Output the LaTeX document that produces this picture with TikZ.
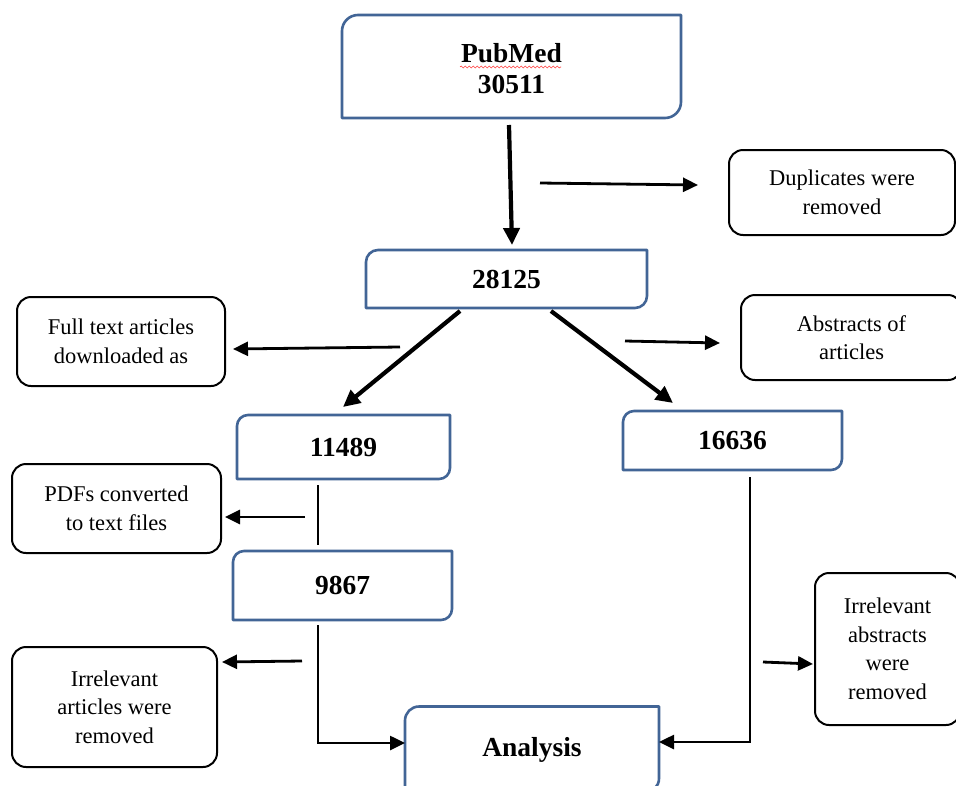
\documentclass[tikz,border=0pt]{standalone}
\usepackage{fontspec}
\setmainfont{Liberation Serif}
\usetikzlibrary{arrows.meta,calc,decorations.pathmorphing}
\definecolor{boxblue}{RGB}{66,101,150}
\tikzset{
  bluebox/.style={draw=none, inner sep=0pt, outer sep=0pt, align=center,
    font=\bfseries\fontsize{27.5}{31}\selectfont},
  bframe/.style={draw=boxblue, line width=2.6pt, line join=round},
  blackbox/.style={draw=black, line width=2pt, rounded corners=14pt, inner sep=0pt,
    outer sep=0pt, align=center, font=\fontsize{22.5}{28.5}\selectfont},
  thinarrow/.style={line width=2.8pt, -{Triangle[length=15pt,width=14pt]}},
  thickarrow/.style={line width=4.2pt, -{Triangle[length=17pt,width=16pt]}},
  plainline/.style={line width=2.6pt}
}
\newcommand\blueframe[2]{%
  \draw[bframe] (#1.south west) -- ([yshift=-#2]#1.north west)
    arc[start angle=180,end angle=90,radius=#2] -- (#1.north east)
    -- ([yshift=#2]#1.south east) arc[start angle=0,end angle=-90,radius=#2] -- cycle;}
\begin{document}
\begin{tikzpicture}[x=1pt,y=1pt]
\useasboundingbox (0,0) rectangle (956,-785);
\fill[white] (0,0) rectangle (956,-785);
\clip (0,0) rectangle (956,-785);

% blue boxes
\node[bluebox, minimum width=339pt, minimum height=103pt] (pub) at (511.5,-66.5) {};
\node[bluebox] (pubtext) at (511.5,-69) {PubMed\\30511};
\node[bluebox, minimum width=281pt, minimum height=58pt] (n28) at (506.5,-279) {28125};
\node[bluebox, minimum width=213pt, minimum height=64pt] (n11) at (343.5,-447) {11489};
\node[bluebox, minimum width=219pt, minimum height=69pt] (n98) at (342.5,-585.5) {9867};
\node[bluebox, minimum width=219pt, minimum height=59pt] (n16) at (732.5,-440.5) {16636};
\node[bluebox, minimum width=254pt, minimum height=86pt] (ana) at (532,-749.5) {Analysis};
\blueframe{pub}{16pt}
\blueframe{n28}{12pt}
\blueframe{n11}{11pt}
\blueframe{n98}{11pt}
\blueframe{n16}{11pt}
\blueframe{ana}{14pt}

% spell-check squiggle
\coordinate (sqa) at (460,-67);
\coordinate (sqb) at (561,-67);
\draw[red!75, line width=0.6pt, decorate, decoration={snake, amplitude=1pt, segment length=4pt}] (sqa) -- (sqb);

% black boxes
\node[blackbox, minimum width=226pt, minimum height=85pt] (dup) at (842,-192.5) {Duplicates were\\removed};
\node[blackbox, minimum width=208pt, minimum height=89pt] (full) at (121,-341.5) {Full text articles\\downloaded as};
\node[blackbox, minimum width=221pt, minimum height=85pt] (abs) at (851.5,-337.5) {Abstracts of\\articles};
\node[blackbox, minimum width=209pt, minimum height=89pt] (pdf) at (116.5,-508.5) {PDFs converted\\to text files};
\node[blackbox, minimum width=205pt, minimum height=120pt] (irra) at (114.5,-707) {Irrelevant\\articles were\\removed};
\node[blackbox, minimum width=145pt, minimum height=152pt] (irrb) at (887.5,-649) {Irrelevant\\abstracts\\were\\removed};

% connectors
\draw[thickarrow] ($(pub.south)+(-2.5,-7)$) -- ($(n28.north)+(5.5,5)$);
\coordinate (dupstart) at (540,-183);
\draw[thinarrow] (dupstart) -- ($(dup.west)+(-31,7.5)$);
\draw[thickarrow] ($(n28.south)+(-46.5,-3)$) -- ($(n11.north)+(-0.5,8)$);
\draw[thickarrow] ($(n28.south)+(44.5,-3)$) -- ($(n16.north)+(-59.5,8)$);
\coordinate (fullstart) at (400,-347);
\draw[thinarrow] (fullstart) -- ($(full.east)+(8,-7.5)$);
\coordinate (absstart) at (625,-341);
\draw[thinarrow] (absstart) -- ($(abs.west)+(-21,-5.5)$);
\draw[plainline] ($(n11.south)+(-25.5,-6)$) -- ($(n98.north)+(-24.5,6)$);
\coordinate (pdfstart) at (305,-517);
\draw[thinarrow] (pdfstart) -- ($(pdf.east)+(4,-8.5)$);
\draw[plainline, -{Triangle[length=15pt,width=14pt]}] ($(n98.south)+(-24.5,-5)$) |- ($(ana.west)+(0,6.5)$);
\coordinate (irrastart) at (302,-661);
\draw[thinarrow] (irrastart) -- ($(irra.east)+(5,45)$);
\draw[plainline, -{Triangle[length=15pt,width=14pt]}] ($(n16.south)+(17.5,-7)$) |- ($(ana.east)+(0,7.5)$);
\coordinate (irrbstart) at (763,-662);
\draw[thinarrow] (irrbstart) -- ($(irrb.west)+(-2,-15)$);
\end{tikzpicture}
\end{document}
